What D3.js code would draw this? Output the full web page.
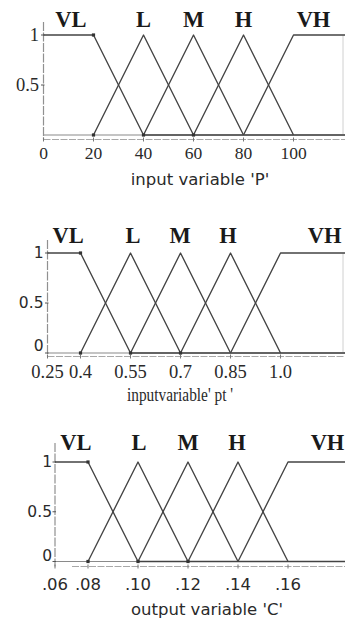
<!DOCTYPE html>
<html>
<head>
<meta charset="utf-8">
<script src="https://cdn.jsdelivr.net/npm/d3@7"></script>
<style>
  html, body { margin: 0; padding: 0; background: #fff; }
  svg { display: block; }
</style>
</head>
<body>
<svg id="chart" width="345" height="626"></svg>
<script>
// Linguistic terms shared by all three variables
const setNames = ["VL", "L", "M", "H", "VH"];

// Input variable P: membership breakpoints [a, b, c, d] (triangles have b == c)
const mfP = [[0, 0, 20, 40], [20, 40, 40, 60], [40, 60, 60, 80], [60, 80, 80, 100], [80, 100, 121, 121]];
const ticksP = [0, 20, 40, 60, 80, 100];
const tickLabelsP = ["0", "20", "40", "60", "80", "100"];
const yTicksP = [0.5, 1];
const yLabelsP = ["0.5", "1"];
const nameAtP = [11, 40, 60, 80, 108];

// Input variable pt
const mfPt = [[0.25, 0.25, 0.4, 0.55], [0.4, 0.55, 0.55, 0.7], [0.55, 0.7, 0.7, 0.85], [0.7, 0.85, 0.85, 1.0], [0.85, 1.0, 1.2, 1.2]];
const ticksPt = [0.25, 0.4, 0.55, 0.7, 0.85, 1.0];
const tickLabelsPt = ["0.25", "0.4", "0.55", "0.7", "0.85", "1.0"];
const yTicksPt = [0, 0.5, 1];
const yLabelsPt = ["0", "0.5", "1"];
const nameAtPt = [0.344, 0.5575, 0.6985, 0.8425, 1.132];

// Output variable C
const mfC = [[0.06, 0.06, 0.08, 0.10], [0.08, 0.10, 0.10, 0.12], [0.10, 0.12, 0.12, 0.14], [0.12, 0.14, 0.14, 0.16], [0.14, 0.16, 0.183, 0.183]];
const ticksC = [0.06, 0.08, 0.10, 0.12, 0.14, 0.16];
const tickLabelsC = [".06", ".08", ".10", ".12", ".14", ".16"];
const yTicksC = [0, 0.5, 1];
const yLabelsC = ["0", "0.5", "1"];
const nameAtC = [0.0727, 0.1004, 0.12, 0.1396, 0.1758];

const SERIF = "'Liberation Serif', 'Times New Roman', serif";
const SANS = "'DejaVu Sans', Verdana, sans-serif";

const panels = [
  {
    mf: mfP, ticks: ticksP, tickLabels: tickLabelsP, yTicks: yTicksP, yLabels: yLabelsP, nameAt: nameAtP,
    title: "input variable 'P'",
    x: d3.scaleLinear().domain([0, 121]).range([43.5, 346]),
    y: d3.scaleLinear().domain([0, 1]).range([135, 35]),
    axisTop: 22, lowerGap: 4.5, lowerStart: 43.5,
    tickFont: SERIF, tickSize: 17.5, tickBase: 159,
    yFont: SERIF, ySize: 18.5, yLabelEnd: 39, zeroShift: 0,
    titleFont: SANS, titleSize: 16.5, titleX: 200, titleBase: 185, titleLength: null,
    nameBase: 27, rightEdge: 343
  },
  {
    mf: mfPt, ticks: ticksPt, tickLabels: tickLabelsPt, yTicks: yTicksPt, yLabels: yLabelsPt, nameAt: nameAtPt,
    title: "inputvariable' pt '",
    x: d3.scaleLinear().domain([0.25, 0.4, 1.2]).range([47.5, 80.5, 347.2]),
    y: d3.scaleLinear().domain([0, 1]).range([353, 253]),
    axisTop: 240, lowerGap: 3.5, lowerStart: 47.5,
    tickFont: SERIF, tickSize: 18.5, tickBase: 378,
    yFont: SANS, ySize: 15.5, yLabelEnd: 43.5, zeroShift: -7,
    titleFont: SERIF, titleSize: 19, titleX: 180, titleBase: 401, titleLength: 106,
    nameBase: 243, rightEdge: 343
  },
  {
    mf: mfC, ticks: ticksC, tickLabels: tickLabelsC, yTicks: yTicksC, yLabels: yLabelsC, nameAt: nameAtC,
    title: "output variable 'C'",
    x: d3.scaleLinear().domain([0.06, 0.08, 0.183]).range([55, 88, 345.5]),
    y: d3.scaleLinear().domain([0, 1]).range([561.5, 462]),
    axisTop: 443, lowerGap: 5, lowerStart: 72,
    tickFont: SANS, tickSize: 16.5, tickBase: 590,
    yFont: SANS, ySize: 15.5, yLabelEnd: 52, zeroShift: -6,
    titleFont: SANS, titleSize: 16.5, titleX: 207, titleBase: 615, titleLength: null,
    nameBase: 450, rightEdge: null
  }
];

const svg = d3.select("#chart");

// Points of one membership function; shoulders start/end on the plateau
function mfPoints(p, i, xMax) {
  const [a, b, c, d] = p;
  const pts = [];
  if (a === b) pts.push([a, 1]); else { pts.push([a, 0]); pts.push([b, 1]); }
  if (c === d) pts.push([d, 1]); else { if (c !== b || a === b) pts.push([c, 1]); pts.push([d, 0]); }
  // the leftmost set keeps its zero line to the end of the range
  if (i === 0) pts.push([xMax, 0]);
  return pts;
}

panels.forEach(P => {
  const g = svg.append("g");
  const x = P.x, y = P.y;
  const [x0] = x.range();
  const xMax = x.domain()[x.domain().length - 1];
  const yBase = y(0);

  // frame: light baseline and the x-axis line just below it
  g.append("line")
    .attr("x1", x0).attr("x2", 345).attr("y1", yBase).attr("y2", yBase)
    .attr("stroke", "#8a8a8a").attr("stroke-width", 1.2);
  g.append("line")
    .attr("x1", P.lowerStart).attr("x2", 345).attr("y1", yBase + P.lowerGap).attr("y2", yBase + P.lowerGap)
    .attr("stroke", "#a8a8a8").attr("stroke-width", 1).attr("stroke-dasharray", "7,1.5");

  // y axis
  g.append("line")
    .attr("x1", x0).attr("x2", x0).attr("y1", P.axisTop).attr("y2", yBase + P.lowerGap)
    .attr("stroke", "#909090").attr("stroke-width", 1.2).attr("stroke-dasharray", "9,1.5");
  if (P.rightEdge) {
    g.append("line")
      .attr("x1", P.rightEdge).attr("x2", P.rightEdge).attr("y1", y(1)).attr("y2", yBase)
      .attr("stroke", "#d0d0d0").attr("stroke-width", 1);
  }

  // y tick marks and labels
  g.selectAll(".ytick").data(P.yTicks).join("line")
    .attr("x1", x0 - 2.5).attr("x2", x0 + 1)
    .attr("y1", d => y(d)).attr("y2", d => y(d))
    .attr("stroke", "#555").attr("stroke-width", 1);
  g.selectAll(".ylab").data(P.yTicks).join("text")
    .attr("x", P.yLabelEnd)
    .attr("y", d => y(d) + (d === 0 ? P.zeroShift : 0))
    .attr("dy", "0.35em")
    .attr("text-anchor", "end")
    .attr("font-family", P.yFont).attr("font-size", P.ySize)
    .attr("fill", "#2a2a2a")
    .text((d, i) => P.yLabels[i]);

  // x tick marks and labels
  g.selectAll(".xtick").data(P.ticks).join("line")
    .attr("x1", d => x(d)).attr("x2", d => x(d))
    .attr("y1", yBase + P.lowerGap - 2).attr("y2", yBase + P.lowerGap + 2)
    .attr("stroke", "#777").attr("stroke-width", 1);
  g.selectAll(".xlab").data(P.ticks).join("text")
    .attr("x", d => x(d))
    .attr("y", P.tickBase)
    .attr("text-anchor", "middle")
    .attr("font-family", P.tickFont).attr("font-size", P.tickSize)
    .attr("fill", "#2a2a2a")
    .text((d, i) => P.tickLabels[i]);

  // membership functions
  const line = d3.line().x(d => x(d[0])).y(d => y(d[1]));
  g.selectAll(".mf").data(P.mf).join("path")
    .attr("d", (p, i) => line(mfPoints(p, i, xMax)))
    .attr("fill", "none")
    .attr("stroke", "#444")
    .attr("stroke-width", 1.35)
    .attr("stroke-linejoin", "round");

  // vertex markers: shoulder corner of VL and the feet between triangles
  const marks = [[P.mf[0][2], 1]].concat(P.mf.slice(1, 4).map(p => [p[0], 0]));
  g.selectAll(".mk").data(marks).join("rect")
    .attr("x", d => x(d[0]) - 1.6).attr("y", d => y(d[1]) - 1.6)
    .attr("width", 3.2).attr("height", 3.2)
    .attr("fill", "#333");

  // set names above each function
  g.selectAll(".name").data(setNames).join("text")
    .attr("x", (d, i) => x(P.nameAt[i]))
    .attr("y", P.nameBase)
    .attr("text-anchor", "middle")
    .attr("font-family", SERIF).attr("font-weight", "bold").attr("font-size", 22.5)
    .attr("fill", "#1a1a1a")
    .text(d => d);

  // variable title
  const t = g.append("text")
    .attr("x", P.titleX).attr("y", P.titleBase)
    .attr("text-anchor", "middle")
    .attr("font-family", P.titleFont).attr("font-size", P.titleSize)
    .attr("fill", "#2a2a2a")
    .text(P.title);
  if (P.titleLength) t.attr("textLength", P.titleLength).attr("lengthAdjust", "spacingAndGlyphs");
});
</script>
</body>
</html>
